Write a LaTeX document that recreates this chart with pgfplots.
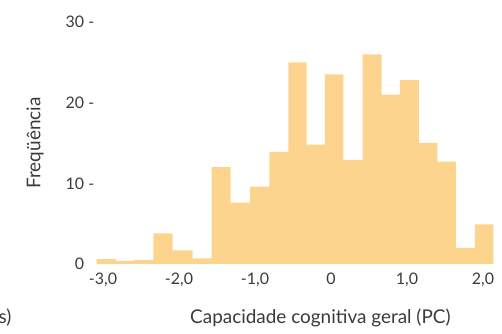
\documentclass[border=0pt]{standalone}
\usepackage{pgfplots}
\pgfplotsset{compat=1.18}
\usepackage{fontspec}
\setmainfont{Lato}
\definecolor{barc}{HTML}{FCD48D}
\definecolor{txt}{HTML}{3A3A3A}
\begin{document}
\begin{tikzpicture}
\path[use as bounding box] (0,0) rectangle (502bp,334bp);
\begin{axis}[
  at={(96.7bp,70bp)}, anchor=south west,
  scale only axis, width=396.6bp, height=242bp,
  xmin=-3.083, xmax=2.136, ymin=0, ymax=30,
  axis line style={draw=none},
  major tick length=0pt,
  tick style={draw=none},
  xtick={-3,-2,-1,0,1,2},
  xticklabels={{-3,0},{-2,0},{-1,0},{0},{1,0},{2,0}},
  ytick={0,10,20,30},
  yticklabels={{0\phantom{ -}},{10 -},{20 -},{30 -}},
  ticklabel style={font=\fontsize{16}{19}\selectfont, text=txt},
  yticklabel style={xshift=1bp},
  xticklabel style={yshift=-5bp},
  xlabel={Capacidade cognitiva geral (PC)},
  ylabel={Freqüência},
  every axis x label/.style={at={(axis description cs:0.564,0)}, yshift=-54bp, anchor=center, font=\fontsize{19}{22}\selectfont, text=txt},
  every axis y label/.style={at={(axis description cs:-0.1556,0.5)}, rotate=90, anchor=center, font=\fontsize{19}{22}\selectfont, text=txt},
  clip=false,
]
\addplot[fill=barc, draw=none, const plot] coordinates {
  (-3.083,0.6) (-2.830,0.4) (-2.590,0.5) (-2.338,3.8) (-2.083,1.7)
  (-1.820,0.7) (-1.570,12) (-1.320,7.6) (-1.066,9.6) (-0.812,13.9)
  (-0.562,25) (-0.320,14.8) (-0.079,23.5) (0.162,12.9) (0.417,26)
  (0.667,21) (0.908,22.8) (1.158,15) (1.399,12.7) (1.645,2)
  (1.895,4.9) (2.136,4.9)
} \closedcycle;
\end{axis}
\node[font=\fontsize{19}{22}\selectfont, text=txt, anchor=center] at (5bp,16bp) {s)};
\end{tikzpicture}
\end{document}
